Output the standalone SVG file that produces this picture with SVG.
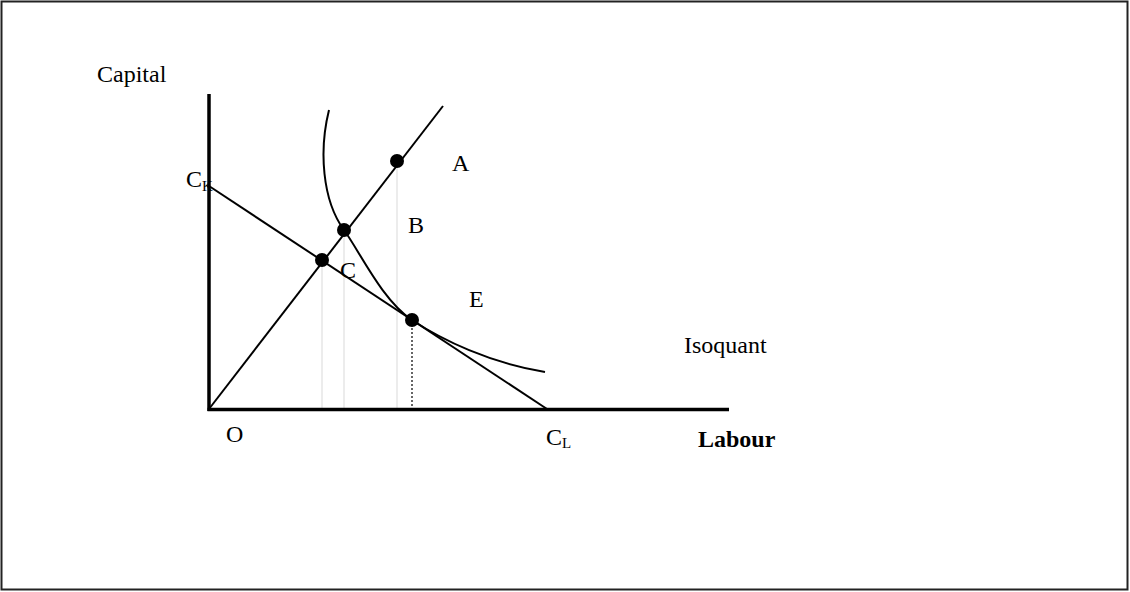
<svg xmlns="http://www.w3.org/2000/svg" width="1130" height="592" viewBox="0 0 1130 592">
<style>
text{font-family:"Liberation Serif","Times New Roman",serif;font-size:24px;fill:#000}
.sub{font-size:15px}
.b{font-weight:bold}
.ln{stroke:#000;stroke-width:2;fill:none}
.ax{stroke:#000;stroke-width:3.5;fill:none}
.gr{stroke:#d9d9d9;stroke-width:1;fill:none}
.dt{stroke:#000;stroke-width:1.2;stroke-dasharray:2,2;fill:none}
.dot{fill:#000}
</style>
<rect x="0" y="0" width="1130" height="592" fill="#fff"/>
<rect x="1.5" y="1.5" width="1126" height="588" fill="none" stroke="#222" stroke-width="2"/>
<g id="connectors">
<line class="gr" x1="322" y1="260" x2="322" y2="408"/>
<line class="gr" x1="344" y1="230" x2="344" y2="408"/>
<line class="gr" x1="397" y1="161" x2="397" y2="408"/>
<line class="dt" x1="412" y1="320" x2="412" y2="408"/>
<line class="ln" x1="209" y1="409" x2="443" y2="106"/>
<line class="ln" x1="209" y1="186" x2="547" y2="409"/>
<path id="isoquant" class="ln" d="M329,110 C319,150 322,200 344,230 C360,252 382,300 412,320 C442,340 490,363 545,372"/>
</g>
<g id="axes">
<line class="ax" x1="209" y1="94" x2="209" y2="411"/>
<line class="ax" x1="207.5" y1="409.5" x2="729" y2="409.5"/>
</g>
<g id="point-A"><circle class="dot" cx="397" cy="161" r="7"/><text x="452" y="171">A</text></g>
<g id="point-B"><circle class="dot" cx="344" cy="230" r="7"/><text x="408" y="233">B</text></g>
<g id="point-C"><circle class="dot" cx="322" cy="260" r="7"/><text x="340" y="278">C</text></g>
<g id="point-E"><circle class="dot" cx="412" cy="320" r="7"/><text x="469" y="307">E</text></g>
<g id="labels">
<text x="97" y="82">Capital</text>
<text x="186" y="187">C<tspan class="sub" dy="4">K</tspan></text>
<text x="684" y="353">Isoquant</text>
<text x="226" y="442">O</text>
<text x="546" y="445">C<tspan class="sub" dy="3">L</tspan></text>
<text class="b" x="698" y="447">Labour</text>
</g>
</svg>
